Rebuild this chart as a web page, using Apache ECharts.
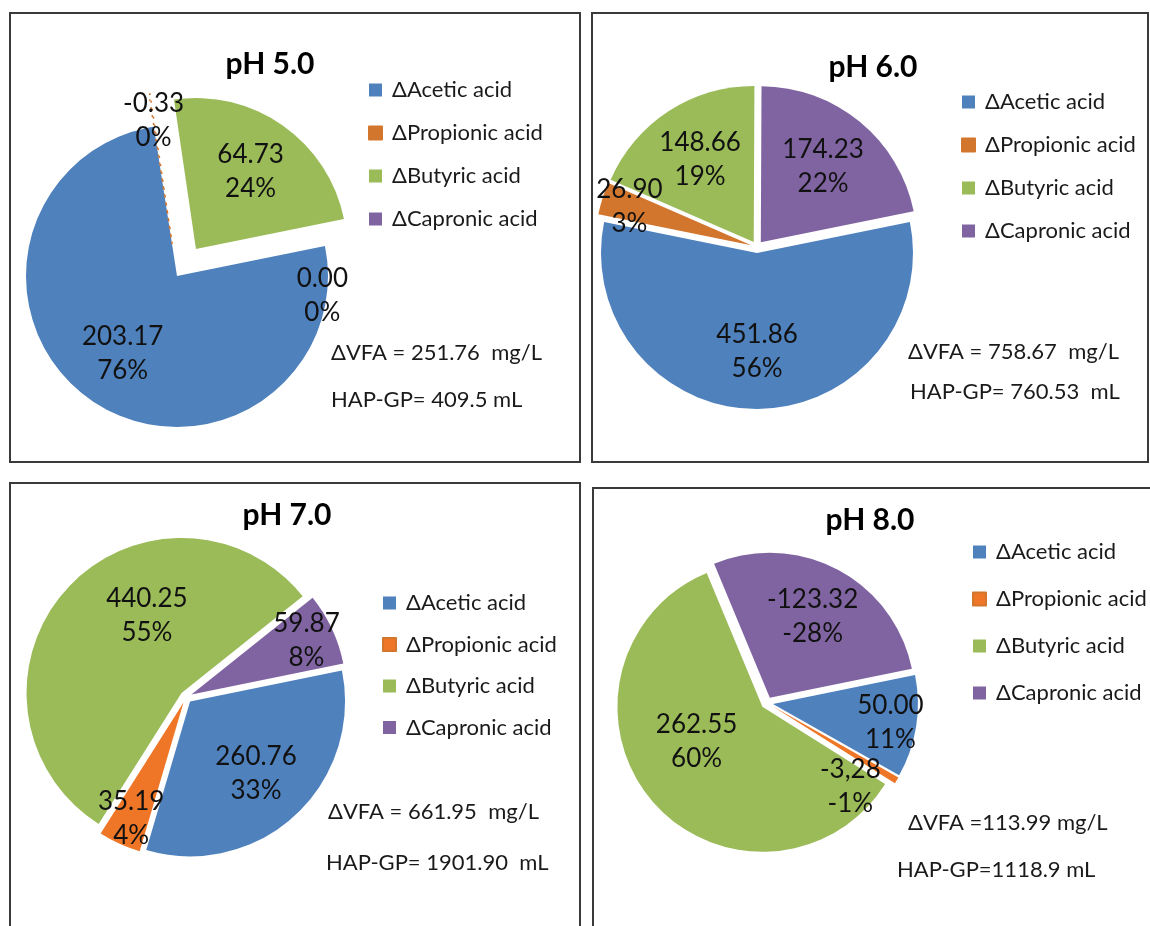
<!DOCTYPE html>
<html><head><meta charset="utf-8">
<script src="https://cdn.jsdelivr.net/npm/echarts@6/dist/echarts.min.js"></script>
<style>html,body{margin:0;padding:0;background:#fff}#c{width:1150px;height:926px}</style>
</head><body><div id="c"></div><script>
// ---- data ----
const acids = ['ΔAcetic acid', 'ΔPropionic acid', 'ΔButyric acid', 'ΔCapronic acid'];
const panelTitles = ['pH 5.0', 'pH 6.0', 'pH 7.0', 'pH 8.0'];
const valuesPH5 = [203.17, -0.33, 64.73, 0.00];
const valuesPH6 = [451.86, 26.90, 148.66, 174.23];
const valuesPH7 = [260.76, 35.19, 440.25, 59.87];
const valuesPH8 = [50.00, -3.28, 262.55, -123.32];
const vfaNotes = ['ΔVFA = 251.76  mg/L', 'ΔVFA = 758.67  mg/L', 'ΔVFA = 661.95  mg/L', 'ΔVFA =113.99 mg/L'];
const gpNotes = ['HAP-GP= 409.5 mL', 'HAP-GP= 760.53  mL', 'HAP-GP= 1901.90  mL', 'HAP-GP=1118.9 mL'];
const valueTextOverrides = [{}, {}, {}, {1: '-3,28'}]; // as printed in the figure
const allValues = [valuesPH5, valuesPH6, valuesPH7, valuesPH8];

// ---- layout / style ----
// labelNudge: small best-fit style shifts of individual data labels (dataIndex -> [dx, dy])
const layout = [
  {frame: [10, 13, 570, 449], center: [177, 276], r: 151, title: [270, 64], legend: {left: 368, top: 79, gap: 21}, notes: [[331, 353], [331, 400]], explode: 33, exploded: [1, 2], orange: '#D2762E', labelNudge: {3: [24, 44]}},
  {frame: [592, 13, 556, 449], center: [757, 247], r: 156, title: [873, 67], legend: {left: 961, top: 91, gap: 21}, notes: [[908, 352], [910, 392]], explode: 6, exploded: [0, 1, 2, 3], orange: '#D2762E', labelNudge: {}},
  {frame: [10, 483, 570, 460], center: [186, 697], r: 155, title: [287, 515], legend: {left: 382, top: 592, gap: 19.5}, notes: [[328, 812], [326, 863]], explode: 6, exploded: [0, 1, 2, 3], orange: '#EE7626', labelNudge: {2: [38, -12]}},
  {frame: [593, 488, 570, 460], center: [767, 703], r: 145, title: [870, 520], legend: {left: 972, top: 541, gap: 25}, notes: [[908, 823], [897, 870]], explode: 6, exploded: [0, 1, 2, 3], orange: '#EE7626', labelNudge: {1: [-24, 20], 2: [4, -24]}}
];
const FONT = 'Lato';
const colorsFor = i => ['#4F81BD', layout[i].orange, '#9BBB59', '#8064A2'];

const series = [];
const legends = [];
const graphics = [];

layout.forEach((L, i) => {
  const values = allValues[i];
  const sumAbs = values.reduce((s, v) => s + Math.abs(v), 0);
  const colors = colorsFor(i);
  const fmt = p => {
    const v = values[p.dataIndex];
    const txt = valueTextOverrides[i][p.dataIndex] || v.toFixed(2);
    let pct = Math.round(v / sumAbs * 100);
    if (pct === 0) pct = 0;
    return txt + '\n' + pct + '%';
  };
  const mkData = band => acids.map((name, k) => {
    const share = Math.abs(values[k]) / sumAbs;
    const d = {name: name, value: Math.abs(values[k]), selected: L.exploded.indexOf(k) >= 0};
    if (!band) {
      d.itemStyle = (share > 0 && share < 0.005)
        ? {color: 'rgba(255,255,255,0)', borderColor: colors[k], borderType: [2, 6], borderWidth: 1.5}
        : {color: colors[k]};
    } else {
      const small = share < 0.15;
      d.label = {show: band === 'outer' ? small : !small};
      if (L.labelNudge[k]) {
        d.label.offset = L.labelNudge[k];
        d.select = {label: {offset: L.labelNudge[k]}};
      }
    }
    return d;
  });
  const common = {
    type: 'pie', center: L.center, startAngle: 11.5, clockwise: true,
    selectedMode: 'multiple', selectedOffset: L.explode,
    legendHoverLink: false, animation: false, emphasis: {disabled: true},
    avoidLabelOverlap: false, labelLayout: {hideOverlap: false},
    labelLine: {show: false}
  };
  series.push(Object.assign({}, common, {
    name: panelTitles[i], radius: L.r, label: {show: false}, data: mkData(null), z: 2
  }));
  [['inner', 0.22], ['outer', 0.6]].forEach(([band, f]) => {
    series.push(Object.assign({}, common, {
      name: panelTitles[i] + ' labels ' + band, radius: [L.r * f, L.r], silent: true, z: 3,
      itemStyle: {color: 'rgba(0,0,0,0)', borderWidth: 0},
      label: {position: 'inside', formatter: fmt, fontFamily: FONT, fontSize: 26, lineHeight: 34, color: '#111'},
      data: mkData(band)
    }));
  });
  legends.push({
    orient: 'vertical', left: L.legend.left, top: L.legend.top, itemGap: L.legend.gap, padding: 0,
    itemWidth: 13, itemHeight: 13, icon: 'rect', selectedMode: false,
    textStyle: {fontFamily: FONT, fontSize: 22, color: '#1a1a1a', padding: [0, 0, 0, 5]},
    data: acids.map((n, k) => ({name: n, itemStyle: {color: colors[k]}}))
  });
  graphics.push({
    type: 'rect', silent: true,
    shape: {x: L.frame[0], y: L.frame[1], width: L.frame[2], height: L.frame[3]},
    style: {fill: 'none', stroke: '#3a3a3a', lineWidth: 2}
  });
  graphics.push({
    type: 'text', silent: true,
    style: {text: panelTitles[i], x: L.title[0], y: L.title[1], font: 'bold 30px ' + FONT, fill: '#000',
      align: 'center', verticalAlign: 'middle', textAlign: 'center', textVerticalAlign: 'middle'}
  });
  [vfaNotes[i], gpNotes[i]].forEach((t, n) => {
    graphics.push({
      type: 'text', silent: true,
      style: {text: t, x: L.notes[n][0], y: L.notes[n][1], font: '22px ' + FONT, fill: '#1a1a1a',
        align: 'left', verticalAlign: 'middle', textAlign: 'left', textVerticalAlign: 'middle'}
    });
  });
});

const chart = echarts.init(document.getElementById('c'), null, {renderer: 'canvas'});
chart.setOption({
  backgroundColor: '#fff',
  animation: false,
  textStyle: {fontFamily: FONT},
  legend: legends,
  graphic: {elements: graphics},
  series: series
});
</script></body></html>
